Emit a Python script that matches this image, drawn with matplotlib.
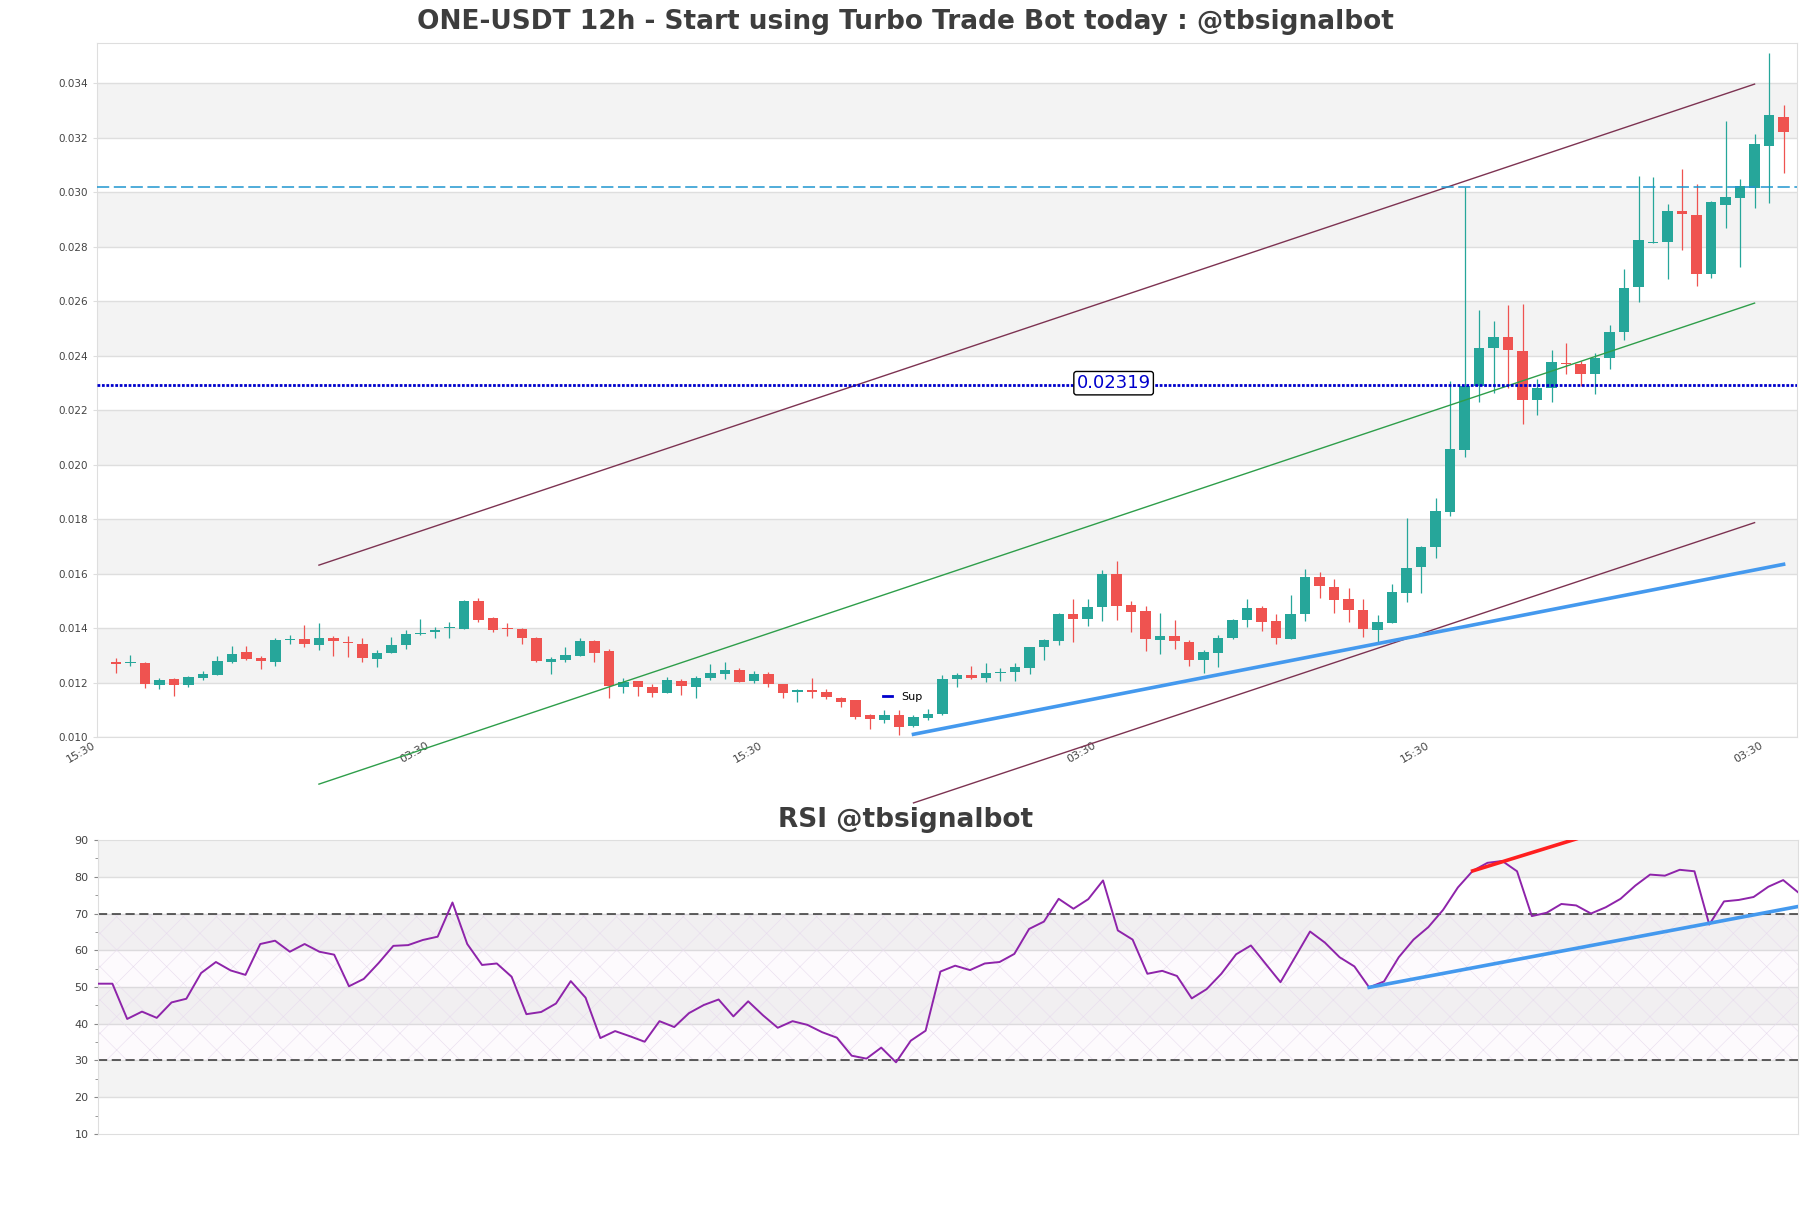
import matplotlib
matplotlib.use("Agg")
import matplotlib.pyplot as plt
from matplotlib.lines import Line2D
import numpy as np

# candles (12h)
opens = [0.01277, 0.01270, 0.01272, 0.01190, 0.01214, 0.01190, 0.01215, 0.01227, 0.01275, 0.01312,
         0.01290, 0.01275, 0.01357, 0.01361, 0.01338, 0.01364, 0.01347, 0.01342, 0.01288, 0.01310,
         0.01336, 0.01377, 0.01384, 0.01399, 0.01397, 0.01501, 0.01438, 0.01399, 0.01398, 0.01365,
         0.01277, 0.01284, 0.01299, 0.01354, 0.01317, 0.01182, 0.01205, 0.01183, 0.01163, 0.01205,
         0.01184, 0.01216, 0.01232, 0.01246, 0.01206, 0.01233, 0.01194, 0.01167, 0.01174, 0.01167,
         0.01144, 0.01135, 0.01079, 0.01063, 0.01079, 0.01041, 0.01069, 0.01083, 0.01213, 0.01228,
         0.01218, 0.01236, 0.01240, 0.01255, 0.01329, 0.01353, 0.01453, 0.01432, 0.01476, 0.01600,
         0.01485, 0.01464, 0.01355, 0.01372, 0.01350, 0.01281, 0.01310, 0.01362, 0.01428, 0.01475,
         0.01426, 0.01361, 0.01450, 0.01588, 0.01551, 0.01505, 0.01468, 0.01393, 0.01420, 0.01530,
         0.01625, 0.01699, 0.01826, 0.02052, 0.02288, 0.02428, 0.02469, 0.02418, 0.02239, 0.02281,
         0.02372, 0.02369, 0.02331, 0.02390, 0.02487, 0.02651, 0.02814, 0.02816, 0.02930, 0.02917,
         0.02698, 0.02953, 0.02978, 0.03015, 0.03171, 0.03277]
highs = [0.01289, 0.01301, 0.01274, 0.01216, 0.01218, 0.01224, 0.01244, 0.01296, 0.01333, 0.01333,
         0.01299, 0.01362, 0.01375, 0.01412, 0.01420, 0.01372, 0.01372, 0.01364, 0.01320, 0.01368,
         0.01391, 0.01435, 0.01405, 0.01424, 0.01502, 0.01509, 0.01441, 0.01420, 0.01399, 0.01368,
         0.01295, 0.01330, 0.01364, 0.01357, 0.01324, 0.01215, 0.01206, 0.01196, 0.01222, 0.01212,
         0.01224, 0.01268, 0.01275, 0.01252, 0.01244, 0.01237, 0.01196, 0.01176, 0.01216, 0.01178,
         0.01147, 0.01137, 0.01083, 0.01098, 0.01098, 0.01082, 0.01104, 0.01228, 0.01234, 0.01259,
         0.01270, 0.01252, 0.01272, 0.01332, 0.01358, 0.01454, 0.01505, 0.01508, 0.01612, 0.01645,
         0.01498, 0.01482, 0.01457, 0.01431, 0.01356, 0.01319, 0.01375, 0.01432, 0.01507, 0.01482,
         0.01452, 0.01522, 0.01615, 0.01607, 0.01581, 0.01548, 0.01505, 0.01449, 0.01562, 0.01803,
         0.01701, 0.01876, 0.02308, 0.03021, 0.02567, 0.02526, 0.02587, 0.02589, 0.02314, 0.02421,
         0.02448, 0.02380, 0.02408, 0.02514, 0.02720, 0.03061, 0.03057, 0.02956, 0.03087, 0.03031,
         0.02968, 0.03261, 0.03050, 0.03214, 0.03511, 0.03320]
lows = [0.01236, 0.01261, 0.01180, 0.01177, 0.01151, 0.01184, 0.01209, 0.01226, 0.01273, 0.01284,
        0.01249, 0.01261, 0.01343, 0.01330, 0.01321, 0.01299, 0.01295, 0.01277, 0.01258, 0.01309,
        0.01322, 0.01373, 0.01362, 0.01365, 0.01397, 0.01424, 0.01386, 0.01369, 0.01343, 0.01277,
        0.01233, 0.01277, 0.01299, 0.01277, 0.01144, 0.01161, 0.01151, 0.01147, 0.01162, 0.01156,
        0.01144, 0.01210, 0.01212, 0.01202, 0.01199, 0.01184, 0.01144, 0.01130, 0.01144, 0.01141,
        0.01110, 0.01067, 0.01030, 0.01051, 0.01007, 0.01036, 0.01063, 0.01079, 0.01184, 0.01212,
        0.01202, 0.01206, 0.01206, 0.01233, 0.01283, 0.01336, 0.01350, 0.01406, 0.01425, 0.01428,
        0.01384, 0.01314, 0.01304, 0.01323, 0.01259, 0.01234, 0.01256, 0.01359, 0.01403, 0.01388,
        0.01341, 0.01358, 0.01425, 0.01511, 0.01454, 0.01421, 0.01366, 0.01345, 0.01419, 0.01497,
        0.01530, 0.01658, 0.01813, 0.02029, 0.02229, 0.02262, 0.02281, 0.02148, 0.02183, 0.02229,
        0.02334, 0.02288, 0.02258, 0.02351, 0.02456, 0.02598, 0.02814, 0.02683, 0.02788, 0.02657,
        0.02685, 0.02867, 0.02727, 0.02943, 0.02959, 0.03071]
closes = [0.01269, 0.01273, 0.01195, 0.01209, 0.01190, 0.01220, 0.01231, 0.01279, 0.01304, 0.01286,
          0.01280, 0.01357, 0.01361, 0.01343, 0.01364, 0.01351, 0.01344, 0.01291, 0.01307, 0.01338,
          0.01379, 0.01383, 0.01394, 0.01401, 0.01501, 0.01431, 0.01391, 0.01396, 0.01365, 0.01280,
          0.01286, 0.01301, 0.01354, 0.01310, 0.01188, 0.01203, 0.01182, 0.01163, 0.01209, 0.01188,
          0.01216, 0.01235, 0.01246, 0.01203, 0.01233, 0.01196, 0.01163, 0.01174, 0.01165, 0.01148,
          0.01130, 0.01073, 0.01067, 0.01082, 0.01038, 0.01073, 0.01086, 0.01212, 0.01227, 0.01218,
          0.01235, 0.01239, 0.01257, 0.01331, 0.01357, 0.01453, 0.01433, 0.01479, 0.01597, 0.01480,
          0.01458, 0.01358, 0.01372, 0.01351, 0.01281, 0.01311, 0.01363, 0.01431, 0.01474, 0.01421,
          0.01362, 0.01452, 0.01588, 0.01554, 0.01502, 0.01465, 0.01395, 0.01423, 0.01531, 0.01619,
          0.01698, 0.01830, 0.02057, 0.02288, 0.02429, 0.02469, 0.02419, 0.02239, 0.02281, 0.02377,
          0.02368, 0.02331, 0.02393, 0.02487, 0.02649, 0.02825, 0.02817, 0.02931, 0.02919, 0.02698,
          0.02965, 0.02982, 0.03023, 0.03177, 0.03285, 0.03222]

rsi = [50.9, 50.9, 41.3, 43.3, 41.6, 45.8, 46.8, 53.8, 56.8, 54.5,
       53.3, 61.7, 62.6, 59.6, 61.7, 59.6, 58.8, 50.2, 52.2, 56.5,
       61.2, 61.4, 62.8, 63.7, 73.0, 61.7, 56.0, 56.4, 52.8, 42.6,
       43.2, 45.5, 51.6, 47.1, 36.1, 38.0, 36.6, 35.1, 40.7, 39.1,
       42.9, 45.1, 46.6, 42.0, 46.1, 42.3, 38.9, 40.7, 39.7, 37.7,
       36.2, 31.3, 30.5, 33.5, 29.5, 35.4, 38.1, 54.2, 55.8, 54.6,
       56.4, 56.8, 59.0, 65.8, 67.8, 74.0, 71.3, 73.9, 79.0, 65.4,
       62.9, 53.6, 54.4, 53.0, 46.9, 49.4, 53.6, 58.9, 61.3, 56.3,
       51.3, 58.2, 65.1, 62.1, 58.1, 55.6, 49.9, 51.5, 58.1, 62.9,
       66.3, 71.0, 77.1, 81.6, 83.8, 84.3, 81.5, 69.3, 70.2, 72.6,
       72.2, 70.0, 71.7, 74.0, 77.6, 80.6, 80.3, 81.9, 81.5, 67.0,
       73.3, 73.7, 74.5, 77.3, 79.1, 75.8]

tick_pos = [-1.3, 21.7, 44.7, 67.7, 90.7, 113.7]
tick_labels = ["15:30", "03:30", "15:30", "03:30", "15:30", "03:30"]

# trend lines (candle index, price)
channel_x = [14, 113]
channel_top = [0.01631, 0.03397]
channel_mid = [0.00827, 0.02593]
lower_x = [55, 113]
lower_y = [0.00758, 0.01787]
sup_x = [55, 115]
sup_y = [0.0101, 0.01634]
resist_level = 0.0302
pivot_level = 0.02292
pivot_label = "0.02319"

rsi_sup_x = [86, 115]
rsi_sup_y = [49.9, 71.9]
rsi_res_x = [93, 100]
rsi_res_y = [81.6, 90.3]

GREEN = "#26a69a"
RED = "#ef5350"
BAND = "#f3f3f3"
GRID = "#dedede"

plt.rcParams["hatch.linewidth"] = 0.4

fig = plt.figure(figsize=(18.11, 12.08), dpi=100)
ax = fig.add_axes([0.0536, 0.3899, 0.9387, 0.5743])
ax2 = fig.add_axes([0.0539, 0.0613, 0.9389, 0.2433])

# ---- price panel ----
for lo in np.arange(0.012, 0.035, 0.004):
    ax.axhspan(lo, lo + 0.002, color=BAND, zorder=0, lw=0)
for g in np.arange(0.010, 0.0345, 0.002):
    ax.axhline(g, color=GRID, lw=1, zorder=0.5)

idx = np.arange(len(opens))
o = np.array(opens); c = np.array(closes)
cols = [GREEN if cc >= oo else RED for oo, cc in zip(o, c)]
ax.vlines(idx, lows, highs, colors=cols, lw=0.9, zorder=2)
body = np.maximum(np.abs(c - o), 0.00004)
ax.bar(idx, body, bottom=np.minimum(o, c), width=0.73, color=cols, zorder=3, lw=0)

ax.plot(channel_x, channel_top, color="#7d3352", lw=1, zorder=4)
ax.plot(channel_x, channel_mid, color="#2e9e4a", lw=1, zorder=4, clip_on=False)
ax.plot(lower_x, lower_y, color="#7d3352", lw=1, zorder=4, clip_on=False)
ax.plot(sup_x, sup_y, color="#4499ee", lw=2.6, zorder=4, clip_on=False)

ax.axhline(resist_level, color="#1f96cf", lw=1.1, linestyle=(0, (8, 3)), zorder=4)
ax.axhline(pivot_level, color="#0000cc", lw=2, linestyle=(0, (1, 0.6)), zorder=4)
ax.text(68.8, 0.02299, pivot_label, color="#0000cc", fontsize=13, ha="center", va="center",
        zorder=6, bbox=dict(boxstyle="round,pad=0.15", fc="white", ec="black", lw=1))

ax.legend(handles=[Line2D([], [], color="#0000cc", lw=2)], labels=["Sup"],
          loc="center", bbox_to_anchor=(0.474, 0.058), frameon=False,
          handlelength=0.8, fontsize=8)

ax.set_xlim(-1.07, 115.93)
ax.set_ylim(0.010, 0.03547)
ax.set_yticks(np.arange(0.010, 0.0345, 0.002))
ax.set_yticklabels([f"{v:.3f}" for v in np.arange(0.010, 0.0345, 0.002)])
ax.set_xticks(tick_pos)
ax.set_xticklabels(tick_labels, rotation=30, ha="right")
ax.tick_params(axis="y", labelsize=7.5, colors="#444444", length=3, color=GRID)
ax.tick_params(axis="x", labelsize=8, colors="#444444", length=0, pad=2)
for s in ax.spines.values():
    s.set_color(GRID)

# ---- RSI panel ----
for lo in [20, 40, 60, 80]:
    ax2.axhspan(lo, lo + 10, color=BAND, zorder=0, lw=0)
for g in range(20, 90, 10):
    ax2.axhline(g, color=GRID, lw=1, zorder=0.5)
ax2.fill_between([0, 115], 30, 70, facecolor="#9c27b0", alpha=0.018, zorder=1, lw=0)
ax2.fill_between([0, 115], 30, 70, facecolor="none", edgecolor="#e8dcee", hatch="x", zorder=1, lw=0)
ax2.axhline(70, color="#333333", lw=1.1, linestyle=(0, (6, 3)), zorder=2)
ax2.axhline(30, color="#333333", lw=1.1, linestyle=(0, (6, 3)), zorder=2)

ax2.plot(np.arange(len(rsi)), rsi, color="#8e24aa", lw=1.4, zorder=3)
ax2.plot(rsi_sup_x, rsi_sup_y, color="#4499ee", lw=2.6, zorder=4)
ax2.plot(rsi_res_x, rsi_res_y, color="#ff1f1f", lw=2.6, zorder=4)

ax2.set_xlim(0, 115)
ax2.set_ylim(10, 90)
ax2.set_yticks(range(10, 91, 10))
ax2.set_yticks(range(15, 90, 10), minor=True)
ax2.set_xticks([])
ax2.tick_params(axis="y", which="both", labelsize=8, colors="#444444", length=3, color="#888888")
ax2.tick_params(axis="y", which="minor", length=2)
for s in ax2.spines.values():
    s.set_color(GRID)

fig.text(0.5, 0.982, "ONE-USDT 12h - Start using Turbo Trade Bot today : @tbsignalbot",
         ha="center", va="center", fontsize=19, fontweight="bold", color="#3d3d3d")
fig.text(0.5, 0.321, "RSI @tbsignalbot", ha="center", va="center",
         fontsize=19, fontweight="bold", color="#3d3d3d")

fig.savefig("out.png", dpi=100)
